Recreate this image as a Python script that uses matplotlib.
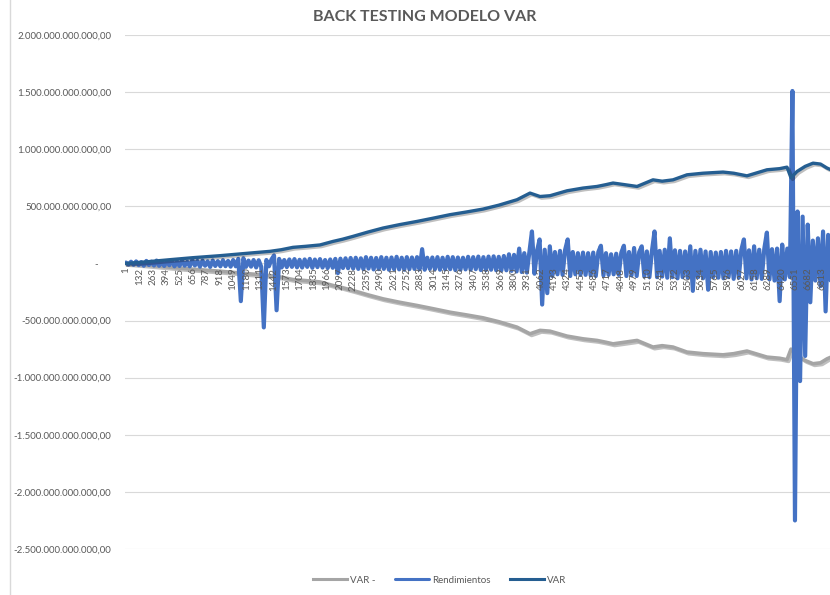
import numpy as np
import matplotlib
matplotlib.use('Agg')
import matplotlib.pyplot as plt
import matplotlib.patheffects as pe
from matplotlib.lines import Line2D

plt.rcParams['font.family'] = ['Lato', 'DejaVu Sans']
plt.rcParams['path.simplify'] = False

# VAR (miles de millones)
var_idx = [1, 200, 432, 650, 921, 1150, 1411, 1520, 1636, 1760,
           1900, 2028, 2120, 2223, 2370, 2517, 2680, 2850, 3000, 3173,
           3330, 3496, 3650, 3829, 3956, 4054, 4152, 4318, 4475, 4612,
           4700, 4769, 4880, 5004, 5160, 5250, 5356, 5493, 5650, 5846,
           5950, 6080, 6276, 6400, 6472, 6511, 6570, 6650, 6727, 6800,
           6864, 6903]
var_val = [0, 14, 33, 50, 68, 86, 106, 120, 141, 150,
           162, 193, 212, 237, 275, 310, 340, 368, 395, 427,
           450, 476, 510, 558, 616, 586, 593, 636, 660, 674,
           690, 704, 690, 674, 732, 720, 732, 776, 790, 800,
           790, 767, 820, 830, 843, 750, 805, 850, 878, 870,
           835, 820]

# Rendimientos (miles de millones), un valor cada 25 observaciones
rend_start = 0
rend_step = 25
rend_val = [
    8, -10, 15, -12, 18, -15, 12, -20, 22, -14, 16, -18, 25, -20, 14, -22, 20, -16, 24, -25,
    18, -22, 28, -20, 15, -25, 30, -18, 22, -28, 25, -20, 18, -30, 26, -22, 20, -25, 28, -24,
    22, -28, 30, -25, 40, -330, 45, -30, 25, -28, 30, -35, 28, -30, -560, 30, -25, 35, 70, -410,
    40, -35, 30, -32, 35, -30, 38, -34, 32, -36, 35, -30, 40, -38, 34, -32, 38, -36, 30, -40,
    35, -38, 40, -85, 42, -40, 45, -42, 48, -45, 50, -48, 45, -50, 55, -45, 50, -52, 48, -50,
    55, -48, 50, -55, 52, -50, 58, -52, 50, -55, 55, -50, 52, -48, 55, -52, 125, -55, 50, -48,
    52, -50, 55, -55, 50, -52, 58, -50, 55, -58, 52, -55, 50, -52, 58, -55, 55, -50, 60, -58,
    55, -58, 60, -55, 62, -60, 58, -62, 65, -60, 80, -65, 75, -70, 130, -75, 90, -80, 100, 280,
    -90, 110, 210, -360, 120, -260, 150, -110, 100, -95, 110, -100, 120, 210, -110, 100, -95, 90, -100, 95,
    -100, 90, -105, 95, -110, 100, 155, -105, 90, -100, 80, -95, 85, -100, 95, 155, -110, 100, -105, 135,
    -110, 100, 150, -115, 105, -120, 110, 280, -120, 110, -115, 120, -125, 220, -120, 115, -130, 110, -120, 105,
    -125, 150, -240, 110, -120, 120, -130, 105, -230, 100, -120, 95, -125, 100, -130, 110, -120, 105, -135, 110,
    -125, 120, 210, -130, 115, -140, 150, -130, 120, -135, 130, 270, -140, 125, -150, 130, -330, 165, -140, 130,
    -120, 1510, -2250, 455, -1030, 410, -810, 340, -340, 200, -150, 220, -200, 280, -420, 250, -150,
]

x_ticks = list(range(1, 6814, 131))
y_ticks = [2e12, 1.5e12, 1e12, 5e11, 0, -5e11, -1e12, -1.5e12, -2e12, -2.5e12]

gris = '#A5A5A5'
azul = '#4472C4'
marino = '#255E91'
texto = '#595959'

var = np.array(var_val) * 1e9
var_menos = -var
rend_idx = rend_start + rend_step * np.arange(len(rend_val))
rend = np.array(rend_val) * 1e9

fig = plt.figure(figsize=(8.3, 5.95), dpi=100)
ax = fig.add_axes([125 / 830, 1 - 549 / 595, 705 / 830, (549 - 35) / 595])

sombra = [pe.SimpleLineShadow(offset=(1.2, -1.2), alpha=0.25), pe.Normal()]
ax.plot(var_idx, var_menos, color=gris, lw=2.6, label='VAR -', path_effects=sombra, zorder=3)
ax.plot(rend_idx, rend, color=azul, lw=3.0, label='Rendimientos', zorder=4,
        solid_joinstyle='round', solid_capstyle='round')
ax.plot(var_idx, var, color=marino, lw=2.4, label='VAR', path_effects=sombra, zorder=5)

ax.set_xlim(-9, 6893)
ax.set_ylim(-2.5e12, 2e12)


def fmt(v):
    if v == 0:
        return '-     '
    s = '{:,.2f}'.format(v)
    return s.replace(',', 'X').replace('.', ',').replace('X', '.')


ax.set_yticks(y_ticks)
ax.set_yticklabels([fmt(v) for v in y_ticks])
ax.set_xticks(x_ticks)
ax.set_xticklabels([str(t) for t in x_ticks])

ax.grid(axis='y', color='#D9D9D9', lw=0.8, zorder=0)
for s in ['top', 'right', 'left']:
    ax.spines[s].set_visible(False)
ax.spines['bottom'].set_position(('data', 0))
ax.spines['bottom'].set_color('#D9D9D9')
ax.spines['bottom'].set_zorder(1)
ax.tick_params(axis='y', length=0, pad=10, labelsize=7, labelcolor=texto)
ax.tick_params(axis='x', length=0, pad=3, labelsize=7, labelcolor=texto, labelrotation=90)
ax.xaxis.set_zorder(6)

fig.text(0.512, 0.972, 'BACK TESTING MODELO VAR', ha='center', va='center',
         fontsize=11.5, fontweight='bold', color=texto)

fig.add_artist(Line2D([10 / 830, 10 / 830], [0, 1], color='#D9D9D9', lw=1))

leg = fig.legend(loc='center', bbox_to_anchor=(0.53, 0.025), ncol=3, frameon=False,
                 fontsize=7, handlelength=3.5, handletextpad=0.3, columnspacing=2.0)
for t in leg.get_texts():
    t.set_color(texto)
for h in leg.get_lines():
    h.set_path_effects([])
    h.set_linewidth(2.2)

fig.savefig('out.png', dpi=100)
